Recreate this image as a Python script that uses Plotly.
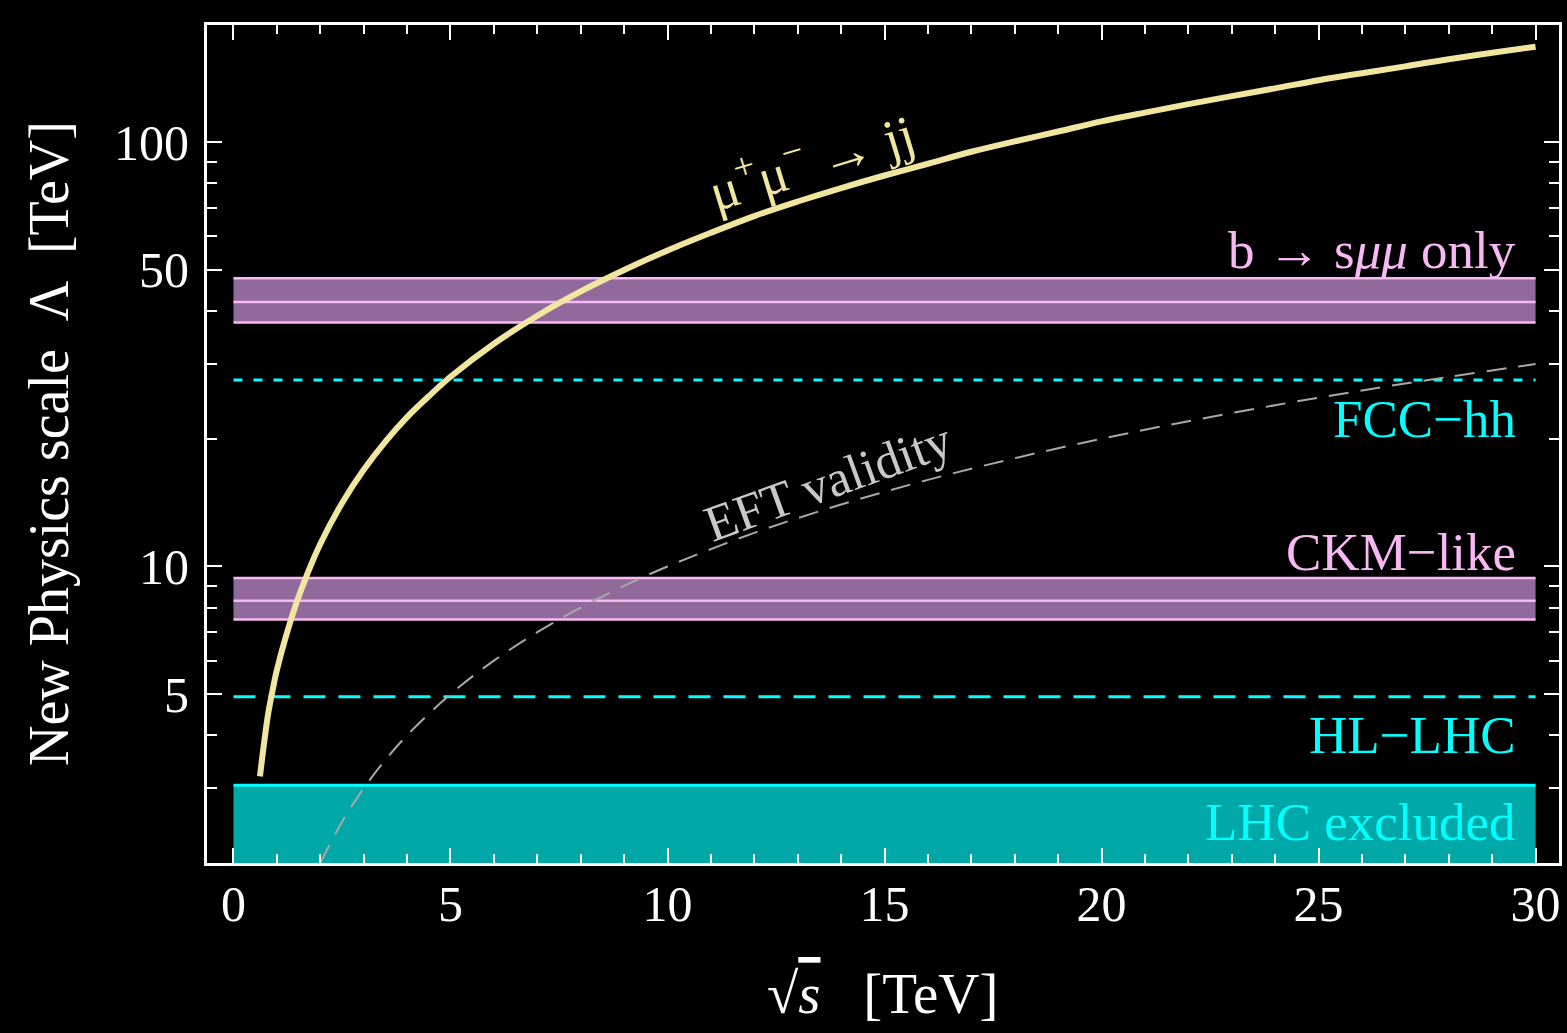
import math
import plotly.graph_objects as go

# ---- data ----
sqrt_s_mumu = [0.61, 0.7, 0.8, 0.9, 1.0, 1.2, 1.45, 1.7, 2.0, 2.5, 3.0, 3.5, 4.0, 4.5,
               5, 6, 7, 8, 9, 10, 11, 12, 13, 14, 15, 16, 17, 18, 19, 20,
               21, 22, 23, 24, 25, 26, 27, 28, 29, 30]
lambda_mumu = [3.2, 3.8, 4.5, 5.1, 5.7, 6.8, 8.2, 9.6, 11.3, 14.1, 16.9, 19.7, 22.5, 25.2,
               28.0, 33.5, 39.0, 44.5, 50.0, 55.6, 61.2, 67.0, 72.5, 78.0, 83.5, 89.0, 95.0, 100.5, 106.0, 112.0,
               117.5, 123.0, 128.5, 134.0, 140.0, 145.5, 151.0, 157.0, 162.5, 168.0]

sqrt_s_eft = [2, 2.5, 3, 3.5, 4, 5, 6, 7, 8, 9, 10, 12, 14, 16, 18, 20, 22, 24, 26, 28, 30]
lambda_eft = [2, 2.5, 3, 3.5, 4, 5, 6, 7, 8, 9, 10, 12, 14, 16, 18, 20, 22, 24, 26, 28, 30]

band_x = [0, 30]
bsmumu_band = [37.6, 42.0, 47.8]   # low, central, high
ckm_band = [7.5, 8.3, 9.4]
lhc_excluded_top = 3.05
hl_lhc = 4.93
fcc_hh = 27.5

x_range = [-0.61, 30.54]
y_range = [2.0, 189.0]

x_ticks = [0, 5, 10, 15, 20, 25, 30]
x_minor = [v for v in range(0, 31) if v % 5 != 0]
y_ticks = [5, 10, 50, 100]
y_ticklabels = ["5", "10", "50", "100"]
y_minor = [2, 3, 4, 6, 7, 8, 9, 20, 30, 40, 60, 70, 80, 90]

# ---- styles ----
FONT = "Liberation Serif"
PURPLE_FILL = "#91699b"
PINK = "#f8b8f4"
TEAL_FILL = "#00a8a8"
CYAN = "#00ffff"
YELLOW = "#f0e6a0"
GREY = "#a8a8a8"

fig = go.Figure()


def band(lo, mid, hi):
    fig.add_trace(go.Scatter(x=band_x, y=[lo, lo], mode="lines",
                             line=dict(color=PINK, width=2.5), showlegend=False, hoverinfo="skip"))
    fig.add_trace(go.Scatter(x=band_x, y=[hi, hi], mode="lines", fill="tonexty",
                             fillcolor=PURPLE_FILL,
                             line=dict(color=PINK, width=2.5), showlegend=False, hoverinfo="skip"))
    fig.add_trace(go.Scatter(x=band_x, y=[mid, mid], mode="lines",
                             line=dict(color=PINK, width=2.5), showlegend=False, hoverinfo="skip"))


band(*bsmumu_band)
band(*ckm_band)

# LHC excluded region
fig.add_trace(go.Scatter(x=band_x, y=[y_range[0] * 0.9] * 2, mode="lines",
                         line=dict(color=TEAL_FILL, width=0), showlegend=False, hoverinfo="skip"))
fig.add_trace(go.Scatter(x=band_x, y=[lhc_excluded_top] * 2, mode="lines", fill="tonexty",
                         fillcolor=TEAL_FILL, line=dict(color=CYAN, width=3),
                         showlegend=False, hoverinfo="skip"))

# HL-LHC and FCC-hh reach
fig.add_trace(go.Scatter(x=band_x, y=[hl_lhc] * 2, mode="lines",
                         line=dict(color=CYAN, width=3, dash="22px,13px"),
                         showlegend=False, hoverinfo="skip"))
fig.add_trace(go.Scatter(x=band_x, y=[fcc_hh] * 2, mode="lines",
                         line=dict(color=CYAN, width=3, dash="9px,11px"),
                         showlegend=False, hoverinfo="skip"))

# EFT validity
fig.add_trace(go.Scatter(x=sqrt_s_eft, y=lambda_eft, mode="lines",
                         line=dict(color=GREY, width=2, dash="20px,12px", shape="spline"),
                         showlegend=False, hoverinfo="skip"))

# mu+ mu- -> jj reach
fig.add_trace(go.Scatter(x=sqrt_s_mumu, y=lambda_mumu, mode="lines",
                         line=dict(color=YELLOW, width=6, shape="spline", smoothing=1.0),
                         showlegend=False, hoverinfo="skip"))

axis_common = dict(
    showline=True, linecolor="white", linewidth=3, mirror="allticks",
    ticks="inside", tickcolor="white", tickwidth=2, ticklen=15,
    showgrid=False, zeroline=False,
    tickfont=dict(family=FONT, size=50, color="white"),
)

fig.update_xaxes(range=x_range, tickmode="array", tickvals=x_ticks,
                 ticklabelstandoff=-5,
                 minor=dict(tickmode="array", tickvals=x_minor, ticks="inside",
                            ticklen=9, tickwidth=2, tickcolor="white", showgrid=False),
                 **axis_common)
fig.update_yaxes(type="log", range=[math.log10(y_range[0]), math.log10(y_range[1])],
                 tickmode="array", tickvals=y_ticks, ticktext=y_ticklabels,
                 ticklabelstandoff=5,
                 minor=dict(tickmode="array", tickvals=y_minor, ticks="inside",
                            ticklen=10, tickwidth=2, tickcolor="white", showgrid=False),
                 **axis_common)

ann_font = dict(family=FONT, size=53)
annotations = [
    dict(x=29.6, y=55.6, text="b → s<i>μμ</i> only", font=dict(color=PINK, **ann_font)),
    dict(x=29.6, y=22.3, text="FCC−hh", font=dict(color=CYAN, **ann_font)),
    dict(x=29.6, y=10.8, text="CKM−like", font=dict(color=PINK, **ann_font)),
    dict(x=29.6, y=4.01, text="HL−LHC", font=dict(color=CYAN, **ann_font)),
    dict(x=29.6, y=2.50, text="LHC excluded", font=dict(color=CYAN, **ann_font)),
]
for a in annotations:
    fig.add_annotation(xref="x", yref="y", x=a["x"], y=math.log10(a["y"]),
                       text=a["text"], font=a["font"], showarrow=False,
                       xanchor="right", yanchor="middle")

fig.add_annotation(xref="x", yref="y", x=13.3, y=math.log10(91),
                   text="μ<sup>+</sup>μ<sup>−</sup> → jj",
                   font=dict(family=FONT, size=54, color=YELLOW),
                   textangle=-17, showarrow=False, xanchor="center", yanchor="middle")
fig.add_annotation(xref="x", yref="y", x=13.7, y=math.log10(15.8),
                   text="EFT validity",
                   font=dict(family=FONT, size=51, color="#c8c8c8"),
                   textangle=-20, showarrow=False, xanchor="center", yanchor="middle")

# axis titles
fig.add_annotation(xref="paper", yref="paper", x=0, y=0.5, xshift=-158,
                   text="New Physics scale  Λ  [TeV]", textangle=-90,
                   font=dict(family=FONT, size=56, color="white"),
                   showarrow=False, xanchor="center", yanchor="middle")
fig.add_annotation(xref="paper", yref="paper", x=0.5, y=0, yshift=-130,
                   text="√<span style='text-decoration:overline'><i>s</i></span>   [TeV]",
                   font=dict(family=FONT, size=57, color="white"),
                   showarrow=False, xanchor="center", yanchor="middle")

fig.update_layout(
    width=1567, height=1033,
    margin=dict(l=207, r=5, t=25, b=170, pad=0),
    paper_bgcolor="black", plot_bgcolor="black",
    showlegend=False,
)

fig.write_html(
    "out.html",
    config={"displayModeBar": False},
    post_script="document.body.style.margin='0';document.body.style.background='black';"
                "document.documentElement.style.background='black';",
)
